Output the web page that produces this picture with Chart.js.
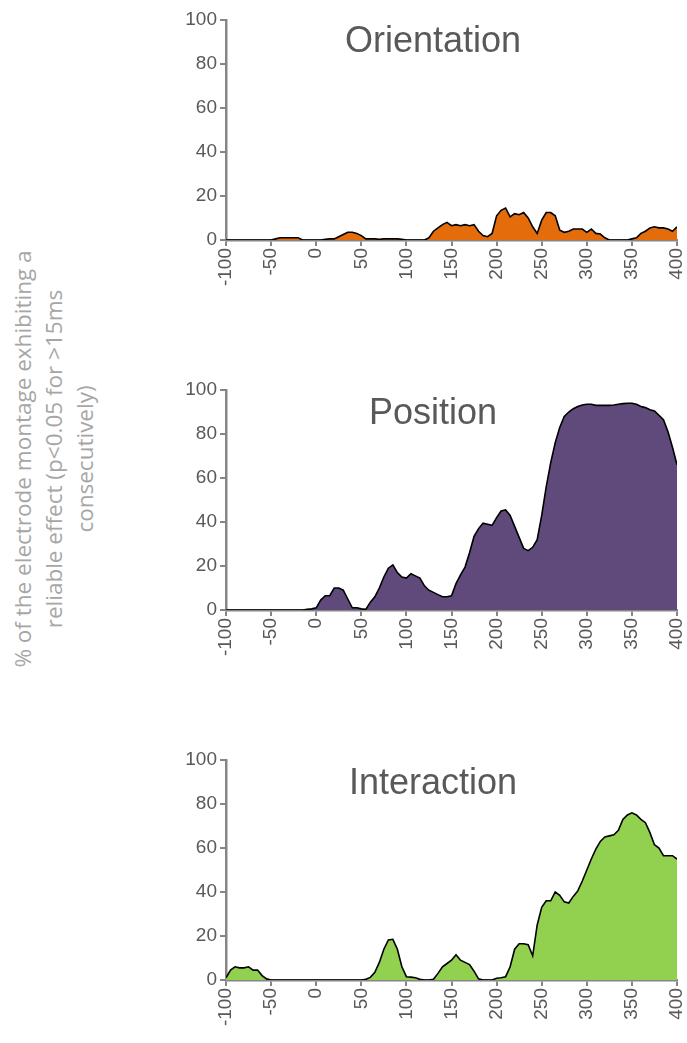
<!DOCTYPE html>
<html>
<head>
<meta charset="utf-8">
<script src="https://cdn.jsdelivr.net/npm/chart.js@4"></script>
<style>
  body { margin: 0; background: #fff; width: 687px; height: 1043px; position: relative; overflow: hidden; }
  .box { position: absolute; left: 150px; width: 537px; height: 300px; }
  .ttl { position: absolute; left: 283px; width: 300px; text-align: center; font: 36px "Liberation Sans", Arial, sans-serif; line-height: 36px; color: #595959; }
  #ytitle { position: absolute; width: 560px; left: -222px; top: 408px; height: 102px; line-height: 34px; text-align: center;
    font: 22.5px "Open Sans", sans-serif; color: #a6a6a6; white-space: nowrap; transform: rotate(-90deg); transform-origin: center; }
</style>
</head>
<body>
<div id="ytitle">% of the electrode montage exhibiting a<br>reliable effect (p&lt;0.05 for &gt;15ms<br>consecutively)</div>
<div class="box" style="top:0px"><canvas id="c1"></canvas></div>
<div class="box" style="top:370px"><canvas id="c2"></canvas></div>
<div class="box" style="top:740px"><canvas id="c3"></canvas></div>
<div class="ttl" style="top:22px">Orientation</div>
<div class="ttl" style="top:394px">Position</div>
<div class="ttl" style="top:764px">Interaction</div>
<script>
// time grid, ms (every 5 ms from -100 to 400)
const times = [];
for (let t = -100; t <= 400; t += 5) times.push(t);

const xTicks = [-100, -50, 0, 50, 100, 150, 200, 250, 300, 350, 400];
const yTicks = [0, 20, 40, 60, 80, 100];

// % of montage
const orientation = [
  0, 0, 0, 0, 0, 0, 0, 0, 0, 0, 0,
  0.5, 1, 1, 1, 1, 1, 0, 0, 0, 0,
  0, 0.3, 0.5, 0.5, 1.5, 2.5, 3.5, 3.5, 3, 2,
  0.5, 0.5, 0.5, 0.3, 0.5, 0.5, 0.5, 0.5, 0.3, 0,
  0, 0, 0, 0, 1, 4, 5.5, 7, 8, 6.5,
  7, 6.5, 7, 6.5, 7, 4, 2, 1.5, 3, 11,
  13.5, 14.5, 10.5, 12, 11.5, 12.5, 10, 6, 3, 9,
  12.5, 12.5, 11, 4.5, 3.5, 4, 5, 5, 5, 3.5,
  5, 3, 2.7, 1, 0, 0, 0, 0, 0, 0.5,
  1, 3, 4, 5.5, 6, 5.5, 5.5, 5, 4, 6
];
const position = [
  0, 0, 0, 0, 0, 0, 0, 0, 0, 0,
  0, 0, 0, 0, 0, 0, 0, 0, 0.3, 0.5,
  1, 4.5, 6.5, 6.5, 10, 10, 9, 5, 1, 1,
  0.5, 0.3, 3.5, 6, 10, 15, 19, 20.5, 17, 15,
  14.5, 16.5, 15.5, 14.5, 11, 9, 8, 7, 6, 6,
  6.5, 12, 16, 19.5, 26, 33.5, 37, 39.5, 39, 38.5,
  42, 45, 45.5, 43, 38, 33, 28, 27, 28.5, 32,
  43, 56, 67, 76, 83, 88, 90, 91.5, 92.5, 93.2,
  93.5, 93.5, 93, 93, 93, 93, 93.2, 93.5, 93.8, 94,
  94, 93.5, 92.5, 92, 91, 90.5, 88.5, 86.5, 81, 74,
  66
];
const interaction = [
  1, 4.5, 6, 5.5, 5.5, 6, 4.5, 4.5, 2, 0.5,
  0, 0, 0, 0, 0, 0, 0, 0, 0, 0,
  0, 0, 0, 0, 0, 0, 0, 0, 0, 0,
  0, 0.3, 1.2, 3.5, 8, 14, 18.2, 18.5, 14, 6,
  1.5, 1.3, 1, 0.3, 0, 0, 0.3, 3, 6, 7.5,
  9, 11.5, 9, 8, 7, 4, 0.5, 0, 0, 0,
  0.8, 1, 1.5, 6, 14, 16.5, 16.5, 16, 11, 25,
  33, 36, 36, 40, 38.5, 35.5, 35, 38, 40.5, 45,
  50, 55, 59.5, 63, 65, 65.5, 66, 68, 73, 75,
  76, 75, 73, 71.5, 67, 61.5, 60, 56.5, 56.5, 56.5,
  55
];

const axisGrey = '#868686';
const tickFont = { family: '"Liberation Sans", Arial, sans-serif', size: 19 };

function makeChart(id, values, fillColor) {
  new Chart(document.getElementById(id), {
    type: 'line',
    data: {
      datasets: [{
        data: times.map((t, i) => ({ x: t, y: values[i] })),
        fill: 'origin',
        backgroundColor: fillColor,
        borderColor: '#000',
        borderWidth: 1.6,
        pointRadius: 0,
        tension: 0
      }]
    },
    options: {
      responsive: true,
      maintainAspectRatio: false,
      animation: false,
      layout: { padding: { top: 20, right: 10, left: 0, bottom: 0 } },
      plugins: { legend: { display: false }, tooltip: { enabled: false } },
      scales: {
        x: {
          type: 'linear',
          min: -100,
          max: 400,
          z: 1,
          afterFit: s => { s.height = 60; s.paddingLeft = 0; s.paddingRight = 0; },
          afterBuildTicks: s => { s.ticks = xTicks.map(v => ({ value: v })); },
          ticks: { autoSkip: false, minRotation: 90, maxRotation: 90, color: '#595959', font: tickFont, padding: 2 },
          grid: { drawOnChartArea: false, color: axisGrey, lineWidth: 2, tickLength: 6 },
          border: { color: axisGrey, width: 2.5 }
        },
        y: {
          min: 0,
          max: 100,
          z: 1,
          afterFit: s => { s.width = 76; s.paddingTop = 0; s.paddingBottom = 0; },
          afterBuildTicks: s => { s.ticks = yTicks.map(v => ({ value: v })); },
          ticks: { color: '#595959', font: tickFont, padding: 3 },
          grid: { drawOnChartArea: false, color: axisGrey, lineWidth: 2, tickLength: 6 },
          border: { color: axisGrey, width: 2.5 }
        }
      }
    }
  });
}

makeChart('c1', orientation, '#E46C0A');
makeChart('c2', position, '#604A7B');
makeChart('c3', interaction, '#92D050');
</script>
</body>
</html>
